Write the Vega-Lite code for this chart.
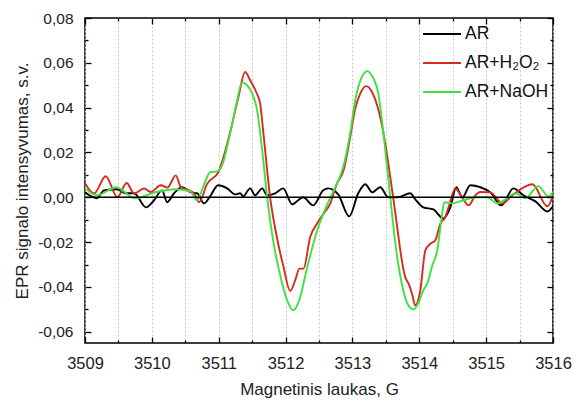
{
  "$schema": "https://vega.github.io/schema/vega-lite/v6.json",
  "width": 468,
  "height": 325,
  "autosize": "none",
  "padding": {"left": 85, "top": 18, "right": 27, "bottom": 62},
  "background": "white",
  "config": {"view": {"stroke": "black", "strokeWidth": 1.5}, "font": "Liberation Sans"},
  "data": {"values": [
    {"s":"AR","x":3509.000,"y":0.0022},{"s":"AR","x":3509.180,"y":-0.0004},{"s":"AR","x":3509.284,"y":0.0031},{"s":"AR","x":3509.479,"y":0.0036},{"s":"AR","x":3509.614,"y":0.0018},{"s":"AR","x":3509.734,"y":0.0018},{"s":"AR","x":3509.913,"y":-0.0045},{"s":"AR","x":3510.033,"y":-0.0013},{"s":"AR","x":3510.153,"y":0.0031},{"s":"AR","x":3510.228,"y":-0.0022},{"s":"AR","x":3510.332,"y":0.0018},{"s":"AR","x":3510.452,"y":0.0045},{"s":"AR","x":3510.587,"y":0.0022},{"s":"AR","x":3510.677,"y":0.0018},{"s":"AR","x":3510.781,"y":-0.0027},{"s":"AR","x":3510.871,"y":0.0004},{"s":"AR","x":3510.991,"y":0.0054},{"s":"AR","x":3511.126,"y":0.004},{"s":"AR","x":3511.246,"y":0.0013},{"s":"AR","x":3511.320,"y":0.0018},{"s":"AR","x":3511.365,"y":0.0004},{"s":"AR","x":3511.470,"y":0.004},{"s":"AR","x":3511.545,"y":0.0009},{"s":"AR","x":3511.650,"y":0.004},{"s":"AR","x":3511.725,"y":0.0009},{"s":"AR","x":3511.844,"y":0.0018},{"s":"AR","x":3511.964,"y":0.004},{"s":"AR","x":3512.099,"y":-0.0031},{"s":"AR","x":3512.189,"y":-0.0013},{"s":"AR","x":3512.263,"y":0.0},{"s":"AR","x":3512.413,"y":-0.0036},{"s":"AR","x":3512.563,"y":0.0031},{"s":"AR","x":3512.638,"y":0.004},{"s":"AR","x":3512.787,"y":0.0013},{"s":"AR","x":3512.952,"y":-0.0085},{"s":"AR","x":3513.087,"y":0.0018},{"s":"AR","x":3513.192,"y":0.0058},{"s":"AR","x":3513.296,"y":0.0022},{"s":"AR","x":3513.416,"y":0.0045},{"s":"AR","x":3513.536,"y":0.0},{"s":"AR","x":3513.671,"y":0.0},{"s":"AR","x":3513.865,"y":0.0018},{"s":"AR","x":3513.940,"y":-0.0009},{"s":"AR","x":3514.060,"y":-0.0045},{"s":"AR","x":3514.210,"y":-0.0054},{"s":"AR","x":3514.359,"y":-0.0094},{"s":"AR","x":3514.464,"y":-0.0045},{"s":"AR","x":3514.554,"y":0.0045},{"s":"AR","x":3514.644,"y":0.0},{"s":"AR","x":3514.763,"y":0.0054},{"s":"AR","x":3514.913,"y":0.0045},{"s":"AR","x":3515.063,"y":0.0022},{"s":"AR","x":3515.228,"y":-0.0036},{"s":"AR","x":3515.407,"y":0.004},{"s":"AR","x":3515.557,"y":0.0009},{"s":"AR","x":3515.737,"y":-0.0018},{"s":"AR","x":3515.916,"y":-0.0063},{"s":"AR","x":3516.000,"y":-0.004},
    {"s":"AR+H₂O₂","x":3509.000,"y":0.0063},{"s":"AR+H₂O₂","x":3509.135,"y":0.0017},{"s":"AR+H₂O₂","x":3509.310,"y":0.0094},{"s":"AR+H₂O₂","x":3509.484,"y":0.0001},{"s":"AR+H₂O₂","x":3509.624,"y":0.0064},{"s":"AR+H₂O₂","x":3509.734,"y":0.0017},{"s":"AR+H₂O₂","x":3509.883,"y":0.0039},{"s":"AR+H₂O₂","x":3509.984,"y":0.0024},{"s":"AR+H₂O₂","x":3510.133,"y":0.0054},{"s":"AR+H₂O₂","x":3510.232,"y":0.0043},{"s":"AR+H₂O₂","x":3510.358,"y":0.0098},{"s":"AR+H₂O₂","x":3510.433,"y":0.0046},{"s":"AR+H₂O₂","x":3510.531,"y":0.0034},{"s":"AR+H₂O₂","x":3510.632,"y":0.0017},{"s":"AR+H₂O₂","x":3510.707,"y":-0.0022},{"s":"AR+H₂O₂","x":3510.826,"y":0.006},{"s":"AR+H₂O₂","x":3510.996,"y":0.0113},{"s":"AR+H₂O₂","x":3511.171,"y":0.0290},{"s":"AR+H₂O₂","x":3511.295,"y":0.0448},{"s":"AR+H₂O₂","x":3511.395,"y":0.0559},{"s":"AR+H₂O₂","x":3511.470,"y":0.0522},{"s":"AR+H₂O₂","x":3511.570,"y":0.0463},{"s":"AR+H₂O₂","x":3511.620,"y":0.0418},{"s":"AR+H₂O₂","x":3511.669,"y":0.0284},{"s":"AR+H₂O₂","x":3511.769,"y":0.0},{"s":"AR+H₂O₂","x":3511.869,"y":-0.0177},{"s":"AR+H₂O₂","x":3511.969,"y":-0.031},{"s":"AR+H₂O₂","x":3512.069,"y":-0.0418},{"s":"AR+H₂O₂","x":3512.144,"y":-0.037},{"s":"AR+H₂O₂","x":3512.208,"y":-0.0318},{"s":"AR+H₂O₂","x":3512.268,"y":-0.0318},{"s":"AR+H₂O₂","x":3512.368,"y":-0.0177},{"s":"AR+H₂O₂","x":3512.469,"y":-0.0118},{"s":"AR+H₂O₂","x":3512.567,"y":-0.0073},{"s":"AR+H₂O₂","x":3512.668,"y":-0.0028},{"s":"AR+H₂O₂","x":3512.768,"y":0.0061},{"s":"AR+H₂O₂","x":3512.867,"y":0.012},{"s":"AR+H₂O₂","x":3512.967,"y":0.0269},{"s":"AR+H₂O₂","x":3513.042,"y":0.0396},{"s":"AR+H₂O₂","x":3513.117,"y":0.0463},{"s":"AR+H₂O₂","x":3513.207,"y":0.0496},{"s":"AR+H₂O₂","x":3513.292,"y":0.047},{"s":"AR+H₂O₂","x":3513.391,"y":0.0388},{"s":"AR+H₂O₂","x":3513.491,"y":0.024},{"s":"AR+H₂O₂","x":3513.566,"y":0.009},{"s":"AR+H₂O₂","x":3513.615,"y":-0.0013},{"s":"AR+H₂O₂","x":3513.689,"y":-0.0177},{"s":"AR+H₂O₂","x":3513.716,"y":-0.0237},{"s":"AR+H₂O₂","x":3513.790,"y":-0.0356},{"s":"AR+H₂O₂","x":3513.840,"y":-0.0385},{"s":"AR+H₂O₂","x":3513.891,"y":-0.043},{"s":"AR+H₂O₂","x":3513.940,"y":-0.0482},{"s":"AR+H₂O₂","x":3514.015,"y":-0.0415},{"s":"AR+H₂O₂","x":3514.090,"y":-0.0237},{"s":"AR+H₂O₂","x":3514.165,"y":-0.0207},{"s":"AR+H₂O₂","x":3514.240,"y":-0.0192},{"s":"AR+H₂O₂","x":3514.314,"y":-0.0118},{"s":"AR+H₂O₂","x":3514.389,"y":-0.0088},{"s":"AR+H₂O₂","x":3514.439,"y":-0.0043},{"s":"AR+H₂O₂","x":3514.539,"y":0.0039},{"s":"AR+H₂O₂","x":3514.639,"y":0.0},{"s":"AR+H₂O₂","x":3514.738,"y":-0.0036},{"s":"AR+H₂O₂","x":3514.838,"y":0.0009},{"s":"AR+H₂O₂","x":3514.913,"y":0.0024},{"s":"AR+H₂O₂","x":3515.063,"y":0.0022},{"s":"AR+H₂O₂","x":3515.243,"y":-0.0027},{"s":"AR+H₂O₂","x":3515.392,"y":0.0009},{"s":"AR+H₂O₂","x":3515.692,"y":0.0058},{"s":"AR+H₂O₂","x":3515.916,"y":-0.004},{"s":"AR+H₂O₂","x":3516.000,"y":0.0009},
    {"s":"AR+NaOH","x":3509.000,"y":0.004},{"s":"AR+NaOH","x":3509.180,"y":0.0009},{"s":"AR+NaOH","x":3509.464,"y":0.0045},{"s":"AR+NaOH","x":3509.749,"y":-0.0004},{"s":"AR+NaOH","x":3510.048,"y":0.0022},{"s":"AR+NaOH","x":3510.347,"y":0.0036},{"s":"AR+NaOH","x":3510.572,"y":0.0027},{"s":"AR+NaOH","x":3510.677,"y":-0.0013},{"s":"AR+NaOH","x":3510.766,"y":0.0045},{"s":"AR+NaOH","x":3510.871,"y":0.0112},{"s":"AR+NaOH","x":3510.976,"y":0.0116},{"s":"AR+NaOH","x":3511.051,"y":0.0143},{"s":"AR+NaOH","x":3511.171,"y":0.0286},{"s":"AR+NaOH","x":3511.260,"y":0.041},{"s":"AR+NaOH","x":3511.350,"y":0.0513},{"s":"AR+NaOH","x":3511.425,"y":0.05},{"s":"AR+NaOH","x":3511.500,"y":0.0464},{"s":"AR+NaOH","x":3511.575,"y":0.0388},{"s":"AR+NaOH","x":3511.650,"y":0.021},{"s":"AR+NaOH","x":3511.725,"y":0.0},{"s":"AR+NaOH","x":3511.814,"y":-0.0192},{"s":"AR+NaOH","x":3511.919,"y":-0.0348},{"s":"AR+NaOH","x":3512.024,"y":-0.046},{"s":"AR+NaOH","x":3512.114,"y":-0.0504},{"s":"AR+NaOH","x":3512.204,"y":-0.046},{"s":"AR+NaOH","x":3512.323,"y":-0.0313},{"s":"AR+NaOH","x":3512.473,"y":-0.0147},{"s":"AR+NaOH","x":3512.638,"y":-0.0022},{"s":"AR+NaOH","x":3512.757,"y":0.0054},{"s":"AR+NaOH","x":3512.862,"y":0.0134},{"s":"AR+NaOH","x":3512.967,"y":0.0286},{"s":"AR+NaOH","x":3513.042,"y":0.0433},{"s":"AR+NaOH","x":3513.132,"y":0.0531},{"s":"AR+NaOH","x":3513.222,"y":0.0563},{"s":"AR+NaOH","x":3513.296,"y":0.054},{"s":"AR+NaOH","x":3513.386,"y":0.0464},{"s":"AR+NaOH","x":3513.476,"y":0.0254},{"s":"AR+NaOH","x":3513.566,"y":0.0},{"s":"AR+NaOH","x":3513.656,"y":-0.0237},{"s":"AR+NaOH","x":3513.760,"y":-0.0415},{"s":"AR+NaOH","x":3513.835,"y":-0.0482},{"s":"AR+NaOH","x":3513.910,"y":-0.05},{"s":"AR+NaOH","x":3513.985,"y":-0.0473},{"s":"AR+NaOH","x":3514.060,"y":-0.0415},{"s":"AR+NaOH","x":3514.120,"y":-0.0384},{"s":"AR+NaOH","x":3514.195,"y":-0.0304},{"s":"AR+NaOH","x":3514.269,"y":-0.0237},{"s":"AR+NaOH","x":3514.329,"y":-0.0103},{"s":"AR+NaOH","x":3514.374,"y":-0.0022},{"s":"AR+NaOH","x":3514.494,"y":-0.0027},{"s":"AR+NaOH","x":3514.659,"y":-0.0013},{"s":"AR+NaOH","x":3514.868,"y":0.0},{"s":"AR+NaOH","x":3515.018,"y":0.0},{"s":"AR+NaOH","x":3515.168,"y":-0.0027},{"s":"AR+NaOH","x":3515.287,"y":-0.001},{"s":"AR+NaOH","x":3515.437,"y":0.0018},{"s":"AR+NaOH","x":3515.587,"y":-0.0004},{"s":"AR+NaOH","x":3515.781,"y":0.005},{"s":"AR+NaOH","x":3515.931,"y":0.0004},{"s":"AR+NaOH","x":3516.000,"y":0.0022}
  ]},
  "layer": [
    {
      "mark": {"type": "line", "interpolate": "monotone", "strokeWidth": 1.9, "clip": true},
      "encoding": {
        "x": {"field": "x", "type": "quantitative",
          "scale": {"domain": [3509, 3516], "nice": false, "zero": false},
          "axis": {"orient": "bottom", "title": "Magnetinis laukas, G",
            "values": [3509,3509.5,3510,3510.5,3511,3511.5,3512,3512.5,3513,3513.5,3514,3514.5,3515,3515.5,3516],
            "labelExpr": "round(datum.value*2)%2===0 ? format(datum.value,'d') : ''",
            "tickSize": {"condition": {"test": "round(datum.value*2)%2===0", "value": -6}, "value": -3},
            "tickColor": "black", "tickWidth": 1.3, "domain": false,
            "grid": true, "gridDash": [2, 2], "gridColor": "#c8c8c8", "gridWidth": 1,
            "labelFontSize": 16.5, "labelColor": "#222", "labelPadding": 18, "labelFlush": false, "labelOverlap": false,
            "titleFontSize": 17, "titleFontWeight": "normal", "titleColor": "#222", "titlePadding": 7}},
        "y": {"field": "y", "type": "quantitative",
          "scale": {"domain": [-0.065, 0.08], "nice": false, "zero": false},
          "axis": {"orient": "left", "title": "EPR signalo intensyvumas, s.v.",
            "values": [-0.06,-0.05,-0.04,-0.03,-0.02,-0.01,0,0.01,0.02,0.03,0.04,0.05,0.06,0.07,0.08],
            "labelExpr": "round(datum.value*100)%2===0 ? (datum.value<0?'-':'') + replace(format(abs(datum.value),'.2f'),'.',',') : ''",
            "tickSize": {"condition": {"test": "round(datum.value*100)%2===0", "value": -6}, "value": -3},
            "tickColor": "black", "tickWidth": 1.3, "domain": false, "grid": false,
            "labelFontSize": 15.5, "labelColor": "#222", "labelPadding": 18, "labelFlush": false, "labelOverlap": false,
            "titleFontSize": 17, "titleFontWeight": "normal", "titleColor": "#222", "titlePadding": 6}},
        "color": {"field": "s", "type": "nominal",
          "scale": {"domain": ["AR", "AR+H₂O₂", "AR+NaOH"], "range": ["#000000", "#d42a20", "#3ee23e"]},
          "legend": {"title": null, "orient": "none", "legendX": 337, "legendY": -4,
            "symbolType": "stroke", "symbolSize": 1444, "symbolStrokeWidth": 2,
            "labelFontSize": 17.5, "labelColor": "#111", "labelOffset": 3, "rowPadding": -15.5}}
      }
    },
    {
      "data": {"values": [{}]},
      "mark": {"type": "rule", "color": "black", "strokeWidth": 1.5},
      "encoding": {
        "y": {"datum": 0, "type": "quantitative",
          "axis": {"orient": "right", "title": null, "labels": false,
            "values": [-0.06,-0.05,-0.04,-0.03,-0.02,-0.01,0,0.01,0.02,0.03,0.04,0.05,0.06,0.07,0.08],
            "tickSize": {"condition": {"test": "round(datum.value*100)%2===0", "value": -6}, "value": -3},
            "tickColor": "black", "tickWidth": 1.3, "domain": false, "grid": false}}
      }
    },
    {
      "data": {"values": [{}]},
      "mark": {"type": "rule", "strokeOpacity": 0},
      "encoding": {
        "x": {"datum": 3509, "type": "quantitative",
          "axis": {"orient": "top", "title": null, "labels": false,
            "values": [3509,3509.5,3510,3510.5,3511,3511.5,3512,3512.5,3513,3513.5,3514,3514.5,3515,3515.5,3516],
            "tickSize": {"condition": {"test": "round(datum.value*2)%2===0", "value": -6}, "value": -3},
            "tickColor": "black", "tickWidth": 1.3, "domain": false, "grid": false}}
      }
    }
  ],
  "resolve": {"axis": {"x": "independent", "y": "independent"}}
}
